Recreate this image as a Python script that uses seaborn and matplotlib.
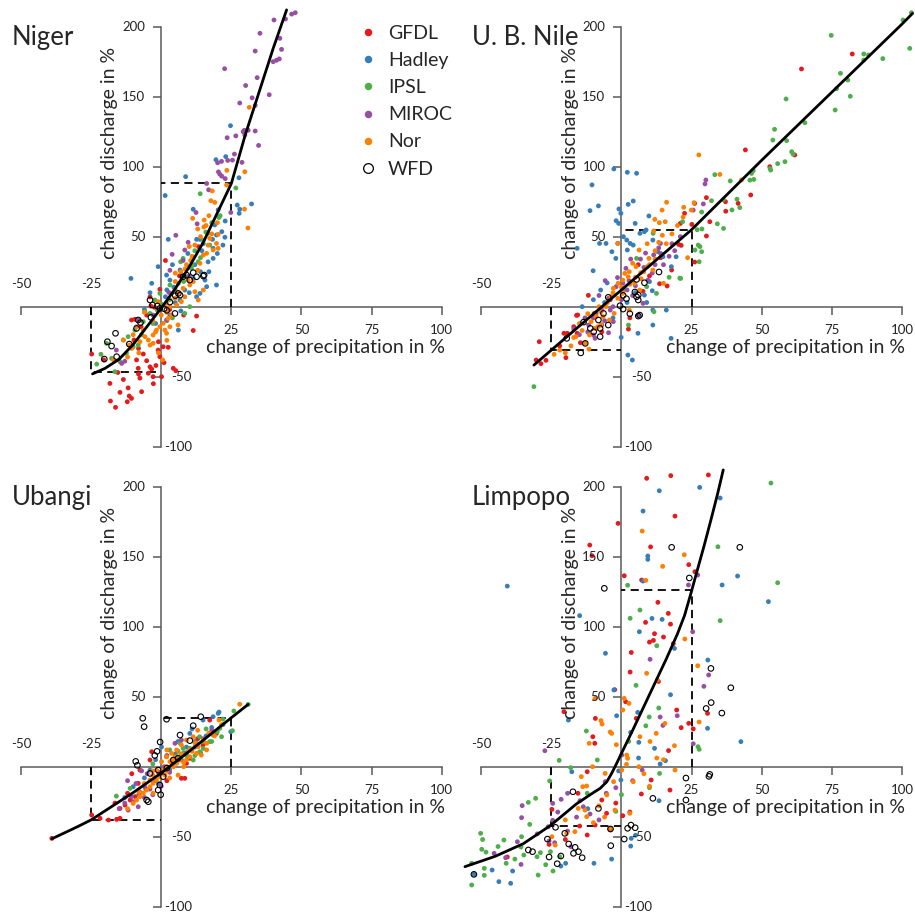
import matplotlib
matplotlib.use("Agg")
import matplotlib.pyplot as plt
import pandas as pd
import seaborn as sns
from matplotlib.lines import Line2D

sns.set_theme(style="ticks")
plt.rcParams["font.family"] = ["Lato", "DejaVu Sans"]

MODELS = ["GFDL", "Hadley", "IPSL", "MIROC", "Nor"]
COLORS = ["#E41A1C", "#377EB8", "#4DAF4A", "#984EA3", "#FF7F00"]
X_TICKS = [-50, -25, 25, 50, 75, 100]
Y_TICKS = [-100, -50, 50, 100, 150, 200]

# ---------------- Niger ----------------
niger_gfdl = [(-24.8, -33.8), (-18.3, -54.8), (-18.1, -67.4), (-16.3, -71.9), (-14.7, -61.2), (-11.8, -58), (-11.4, -63.8),
              (-10.6, -65.5), (-12.1, -67.9), (-13.5, -52), (-15.5, -47), (-8.8, -38), (-8.2, -44), (-7.0, -60.7), (-7.6, -51),
              (-5.2, -38.6), (-4.0, -43), (-4.6, -47.5), (-3.4, -44.5), (-2.9, -50), (-1.9, -42), (-0.5, -35.7), (0.7, -28.6),
              (2.5, -29), (-1.1, -31), (4.3, -44), (5.2, -45.7), (11.4, -17), (12.6, -6.7), (-10.6, -9.5), (-9.4, -9), (-4.0, 7),
              (-3.7, 0.5), (-2.3, -0.5), (1.5, 33), (-0.5, 12.4), (-5.2, -6), (-7.2, -14.3), (-9.7, -23.8), (-8.1, -29.8),
              (-6.4, -33.8), (-8.1, -48.1), (0.1, -50), (13.3, 42.9), (-20.5, -38), (-2.8, -55), (1.0, -40), (-1.0, -25),
              (3.0, -2), (8.0, -6), (6.5, 22)]
niger_hadley = [(24.7, 129.3), (19.5, 105), (23, 107.2), (8.7, 92.9), (1.4, 79.4), (27.7, 92.1), (11.4, 69.6), (20.3, 69.2),
                (27.1, 72.6), (28, 69.6), (27.8, 66.7), (32.2, 73.4), (22.8, 61.2), (21.6, 53.6), (19.1, 58.4), (22.7, 49.6),
                (18.3, 48.1), (12.6, 48.1), (13.8, 48.1), (2.5, 48.1), (-10.8, 20.2), (-1.1, 28.6), (1.9, 22.6), (-3.4, 16.7),
                (3.1, 19), (6.7, 26.2), (10.2, 28.6), (15.6, 19), (16.2, 14.3), (19.7, 15.5), (19.7, 51.2), (12.6, 7.1),
                (13.8, 9.5), (6.1, -16.7), (6.7, 4.8), (3.1, -6), (18.5, 41.7), (16.7, 32), (18.5, 34.5), (11.4, 20.2),
                (8.4, 11.9), (5, 2.9), (1.5, 7.1), (9.5, 38), (14.5, 40), (-6, -2), (-2, -12), (4.5, 14), (8, 22), (12, 30),
                (14, 25), (17, 25), (20, 38), (22, 44), (7, -3), (10, 10), (4, 30), (2, 12), (-4, 10), (15, 45)]
niger_ipsl = [(26.6, 84.8), (13.9, 80.7), (20.6, 63.7), (15.9, 53.3), (-19.5, -26.2), (-17.7, -36.9), (-16.5, -46.4),
              (-13.5, -23.8), (-11.8, -21.4), (-10, -28.6), (-9.4, -16.7), (-5.8, -3.6), (-4, -4.8), (-1.4, -2.4), (-2.3, 4.8),
              (-0.5, 9.5), (3.1, 15.5), (6.1, 16.7), (6.9, 32.1), (7.8, 34.5), (9, 21.4), (10.8, 27.4), (15, 47.6), (16.7, 52.4),
              (13.2, 32.1), (17.3, 44), (-6.4, -10.7), (8.4, -4.8), (10.2, 0), (-12.4, -33.3), (-14.7, -39.3), (-8.2, -27.4),
              (-21.5, -34), (-23, -41), (4, -8), (12, 40), (0, 2), (3, 5), (5, 12), (8, 18), (11, 30), (14, 35), (-3, -12),
              (-7, -20), (2, -10), (18, 60), (21, 65)]
niger_miroc = [(40.2, 204.8), (44.3, 205.5), (46.5, 209), (47.8, 210), (35.2, 195.3), (42.3, 191.7), (42.9, 183.8), (39.9, 175),
               (41.1, 176), (42.1, 177), (33.5, 182.6), (22.6, 170), (34.2, 163.6), (30.1, 158), (32.4, 149.2), (38.5, 151.4),
               (28, 145.5), (33.5, 143.8), (29.2, 125), (29.8, 122.6), (29.6, 126), (31, 126), (33.5, 125.5), (26.6, 122),
               (23.5, 120.7), (34.7, 115.2), (26.1, 109), (28.8, 103.1), (20.1, 102.8), (21.5, 103.8), (23.7, 104.5),
               (25.4, 104.7), (20.4, 96.3), (20.9, 94.6), (21.6, 93.2), (22.8, 91.5), (16.2, 88), (16.9, 83.5), (12.4, 67.3),
               (24.8, 67.3), (12.8, 59.2), (5.2, 51), (3.9, 37.4), (9.6, 46), (7.8, 33), (2.7, 10.2), (1.9, -9.5),
               (-14.1, -40.5), (-13, -39), (8.4, 40.5), (3.1, 26), (-8.2, -9.5), (-2.9, -6), (-16, -31), (10, 22)]
niger_nor = [(-13.5, -23.8), (-11.4, -27.4), (-10.5, -29.8), (-7.6, -25), (-5.8, -21.4), (-4, -27.4), (-2.9, -26.2),
             (-0.5, -14.3), (0.7, -11.9), (1.3, -16.7), (1.9, -19), (3.1, -14.3), (2.5, -8.3), (3.7, -6), (-1.7, -16.7),
             (-2.9, -20.2), (-4.6, -23.8), (-6.4, -16.7), (-8.8, -14.3), (4.9, 6), (5.5, 1.2), (7.2, 3.6), (8.4, 7.1),
             (10.2, 15.5), (11.4, 17.9), (12, 10.7), (13.8, 31), (15, 36.9), (16.2, 38.1), (18.5, 40.5), (16.7, 44),
             (17.3, 48.8), (19.7, 45.2), (20.3, 41.7), (9.6, 19), (7.8, 13.1), (1.9, 2.4), (3.1, 0), (13.2, 4.8), (15, 11.9),
             (-1.1, 3.6), (31.4, 142.4), (23.4, 97.4), (29.8, 96.4), (18.2, 82.7), (17.7, 75.7), (19.1, 74.5), (11.2, 63.1),
             (15.3, 61.9), (13, 55.5), (15.2, 56.9), (29.7, 69.7), (30.9, 56.2), (20.3, 51.7), (23.3, 86.9), (-17, -38),
             (-12, -36), (-1, -33), (0.5, -38), (2, -24), (6, -13), (8.5, 27), (5, 24), (10.5, 33), (-3, -10), (-6, -4),
             (5, 18), (7, 25), (9, 30), (11, 36), (12, 44), (14, 50), (16, 58), (17, 65), (10, 43), (6, 10), (2, -4),
             (-2, -18), (-8, -33), (-10, -20), (0, -6), (13, 26), (18, 52), (20, 60)]
niger_wfd = [(-20.3, -37.4), (-17.7, -28.1), (-16.3, -19), (-19.2, -25), (-15.9, -35.7), (-11.4, -26.7), (-8.2, -9.5),
             (-7.4, -11.4), (-8.8, -15.5), (-4, 4.8), (-3.1, 1.2), (-3.7, -7.6), (-1.4, 0.5), (-0.5, -1.2), (1, -1.4),
             (2, -2.6), (4.9, -4.8), (3.1, 3.3), (5, 7.9), (6.1, 9.5), (7.8, 21.4), (9, 22.6), (11.4, 24.3), (12.6, 21.4),
             (15, 21.9), (15.3, 22.6), (10.2, 19), (6.7, 8.3)]
niger_curve_x = [-24.5, -20, -15, -10, -5, 0, 5, 10, 15, 20, 25, 30, 35, 40, 44.7]
niger_curve_y = [-48, -44, -37.5, -27, -14, -1, 12.9, 28.5, 46, 67, 88, 123, 154, 185, 212]
niger_box = (-47, 88)

# ---------------- Upper Blue Nile ----------------
nile_gfdl = [(-29.3, -25), (-28.7, -40.7), (-26.9, -38.3), (-30.4, -38.1), (-19.8, -36.4), (-16, -6.2), (-11.8, 8.1),
             (-20.5, -19), (-19.3, -19), (-15.8, -19), (-17, -14.3), (-14.6, -25.7), (-9.7, -4.8), (-15.6, -5.9), (2.5, -16),
             (7.7, 11), (13.6, 16.4), (16.3, 14.8), (17.9, 26.2), (20.4, 44.5), (21.3, 43.8), (21, 59.5), (25.1, 58.8),
             (22.5, 66.7), (26.1, 73.8), (30.3, 77.9), (31.5, 60.7), (30.3, 50.5), (26.1, 31.9), (37.1, 75), (41.6, 73.8),
             (37.2, 68.2), (46.1, 79.8), (44.2, 112), (52.9, 100), (61.8, 108.4), (64.2, 169.8), (82.3, 180.5), (-7, -18),
             (3, -8), (10, 22), (14, 35), (-4, 5), (6, 30), (-22, -28)]
nile_hadley = [(-2.7, 98.4), (2.1, 96), (5.4, 95.3), (-10.5, 87), (-11.2, 68.6), (-8.2, 72), (-0.9, 69.8), (-0.2, 66.7),
               (4.2, 75.5), (2.4, 73.1), (-1.9, 61.4), (-1, 59.5), (4.9, 59.5), (9.8, 64.8), (8.8, 54.8), (0.7, 50), (1.9, 47.6),
               (6.6, 52.4), (-7.8, 45.2), (-5.5, 45.2), (-1.3, 45.2), (3.1, 45.2), (4.2, 44), (-15.8, 41.7), (-3.4, 39.3),
               (-2, 34.5), (2.1, 40.5), (-10.1, 25.7), (-7.4, 11.9), (-5.1, 17), (8.2, 53.6), (11.2, 47.6), (13, 39.3),
               (14.8, 35.7), (17.8, 28.6), (19.5, 35.7), (11, 11.4), (10, 17.9), (8.2, 8.3), (11.2, -2.4), (16, -2.4),
               (11.2, -13.1), (5.9, -19), (-0.1, -21.9), (2.3, -34.5), (3.9, -38.1), (17.7, -22.6), (-10, 5), (-6, 3), (2, 3),
               (5, 10), (9, 3), (-14, 0), (-3, -8)]
nile_ipsl = [(103.4, 210), (100.4, 204.8), (102.8, 184.5), (74.8, 193.8), (86.4, 180.5), (88.1, 179.8), (86.4, 176.2),
             (93.2, 177.2), (78.1, 166.7), (80.7, 161.9), (76.7, 155.7), (81.6, 150.3), (76.2, 140.5), (58.7, 148.4),
             (54.6, 126.7), (54, 119), (58.9, 118.6), (65.4, 131.4), (60.7, 110.7), (61.2, 109), (58.3, 103.6), (55.7, 102.2),
             (53.2, 97.6), (53, 98.8), (47, 97.1), (46.4, 95.2), (45.8, 90.4), (47.2, 90.9), (38.8, 89.8), (41.2, 76.8),
             (42.2, 70.8), (39.4, 69.1), (32.1, 75.7), (33.3, 94.3), (36.3, 76.4), (34.2, 59.2), (36.4, 55.9), (28.7, 55.5),
             (27, 55), (28.6, 67.6), (27.4, 44), (28, 42.9), (26.2, 40.5), (-31.2, -57.1), (21.1, 20.2), (12.5, 9.5),
             (2.5, -13.1), (5.4, 34.5), (11.3, 52.4), (28.6, 39.3), (27.7, 32.1), (21.8, 60.7), (-8.8, -15.5), (-7.1, -13.1),
             (0.7, 12), (9, 14.3), (11.6, -3.6), (20.8, 20.4), (17, 21)]
nile_miroc = [(30.1, 90.5), (29.8, 87.7), (29.2, 73.4), (25.6, 69), (13.9, 45.2), (8.6, 38.3), (11.5, 37), (13.3, 42),
              (6.8, 34), (3.3, 34), (2.7, 18.6), (0.5, 16.7), (-1.9, 14.3), (-5.8, 18.6), (-1.4, 20.8), (-4.6, 6), (-7, -2.4),
              (-4, -2.4), (-9, -4.8), (-11.7, -13.1), (-10, -20.2), (-9.4, -22.6), (-4.6, -18.6), (-7, -13), (-2.9, -10.7),
              (6, -6), (7.7, 2.4), (9.4, 19), (11, 24), (1.6, 27.4), (17, 36), (19, 40), (-13, -8), (-17, -16), (4, 8), (15, 30),
              (-15, -20), (-12, -18), (-10, -8), (-6, -10), (-3, 0), (0, 5), (2, 12), (5, 15), (8, 28), (12, 30), (14, 38),
              (18, 45), (21, 50), (-8, 8)]
nile_nor = [(27.6, 108.4), (35.1, 94.5), (42.8, 90.5), (16.1, 74.6), (25.9, 74.3), (22.2, 71), (24.9, 69), (14.5, 69),
            (13.5, 60), (11.9, 62.4), (15.6, 60.7), (11.5, 54.1), (14.6, 51), (9.2, 45), (13.3, 46), (9.8, 34.5), (6.3, 40.5),
            (9.2, 28.6), (6.9, 24.3), (4, 31), (5.2, 28.6), (2.8, 25), (-1.3, 45.2), (1.2, 23.8), (2.4, 21.4), (0.5, 19),
            (-1.2, 16.7), (4.7, 16.7), (6.5, 11.9), (-2.9, 13.1), (-3.7, 7.1), (-5.5, 0), (-7.3, -3.6), (-9, -7.1),
            (-10.8, -10.7), (-9.6, -15.5), (-11.4, -20.2), (-11.6, -30.3), (-16.2, -21.4), (-4.3, -9.5), (-2.6, -4.8),
            (2.8, -2.4), (-6.6, -7.1), (-8.4, -14.3), (-7.3, -13.1), (-1.3, 6), (0.5, 9.5), (15, 16.7), (11.2, 26.2),
            (23.6, 35), (-14, -17), (-18, -28), (-13, -26), (-20, -33), (7, 20), (12, 34), (-22, -31), (-24, -34),
            (-17, -22), (-15, -12), (-12, -5), (-8, 0), (-5, 3), (-3, 10), (0, 14), (3, 16), (5, 21), (8, 25), (10, 30),
            (12, 40), (16, 45), (18, 52), (20, 58), (22, 64)]
nile_wfd = [(-4.7, 6.7), (-6.4, -4.8), (-8.2, -9.5), (-7.6, -15.5), (-7.6, -21.4), (-11.1, -15.5), (-9.9, -17.9),
            (-4.7, -13.1), (-12.9, -26.2), (-19.5, -22.6), (0.6, 8.1), (1.8, 5.7), (4.8, 10.5), (5.4, 7.1), (6, 8.3), (6, 4.8),
            (-0.5, 0.7), (0.6, -1.7), (3, -5), (6, -6.7), (6.5, -6), (13.4, 24.8), (8.2, 17.1), (5.4, 19.5), (-14.5, -33),
            (-13.5, -11)]
nile_curve_x = [-31.2, -25, 0, 25, 50, 75, 100, 103.8]
nile_curve_y = [-41.7, -31, 12, 55, 104.6, 153.2, 201.8, 209.5]
nile_box = (-31, 55)

# ---------------- Ubangi ----------------
ubangi_gfdl = [(-39, -51.2), (-24.8, -34.5), (-21.8, -36.9), (-18.8, -38.1), (-15.9, -37.6), (-14.7, -36.9), (-14.7, -29.8),
               (-12.9, -27.4), (-11.1, -23.8), (-9.3, -21.4), (-7.8, -17.9), (-4, 4.8), (-3.4, 10.7), (-7.6, -2.4),
               (-8.2, -11.9), (7.2, -8.3), (8.4, -8.3), (9, 2.4), (10.2, 6), (14.9, 15.5), (19.7, 23.8), (17.3, 33.3),
               (-10.5, -5), (-5.5, -16), (-16.5, -26), (-12, -19), (2, -10), (13, 20)]
ubangi_hadley = [(20.6, 39), (24.8, 25), (14.9, 33.3), (18.5, 35.7), (20.3, 38.1), (10.2, 23.8), (7.2, 4.8), (-4, -2.4),
                 (-10, -14.3), (0.1, 14.1), (12, 18), (16, 22), (14, 10), (9, 14), (5, 9), (3, -2), (-2, 5), (-6, -8),
                 (18, 28), (22, 30), (11, 27), (6, 18), (-1, -12), (-13, -22)]
ubangi_ipsl = [(31, 44.5), (25.9, 39.8), (25.4, 25.7), (21.5, 21.4), (14.9, 17.9), (13.7, 10.7), (11.4, 4.8), (9.6, 7.1),
               (7.8, 13.1), (6.7, 16.7), (1.9, 7.1), (10.2, 13.1), (12.6, 16.7), (13.7, 21.4), (17.3, 17.9), (18.5, 22.6),
               (20.9, 27.4), (5.5, 7.1), (-11.1, -15.5), (-16, -21), (3, 12), (16, 27), (8, 10), (-3, 2), (22, 34),
               (9, 8), (12, 8), (15, 13), (18, 18), (20, 25), (6, 11), (4, 2)]
ubangi_miroc = [(-8.2, -28.6), (-11.8, -31), (-10.6, -21.4), (4.9, 16.7), (7.2, 19), (-15, -30), (-13, -26), (-6, -22),
                (-4, -16), (-9, -12), (-2, -10), (0, -14), (-5, -5), (1, 0), (3, -4), (6, 5), (9, 10), (12, 14), (15, 20),
                (18, 26), (-7, -3), (-12, -10), (2, 8), (-10, -25), (-8, -20), (-3, -20), (-6, -14), (-1, -4)]
ubangi_nor = [(28, 44.6), (20.6, 33.4), (16.2, 16.7), (13.2, 14.3), (16.2, 12), (12.6, 9.5), (10.2, 7.1), (9, 4.8), (6.7, 4.8),
              (5.5, 2.4), (4.3, 0), (3.1, 3.6), (1.9, 0), (0.7, -2.4), (1.3, -6), (-0.5, -7.1), (-1.7, -9.5), (-2.9, -11.9),
              (-4, -14.3), (-5.2, -16.7), (-6.4, -19), (-7.6, -21.4), (-8.8, -23.8), (-10, -26.2), (-1.7, -2.4), (0.1, 3.6),
              (1.9, 7.1), (3.7, 9.5), (5.5, 11.9), (7.2, 15.5), (9, 19), (11.4, 21.4), (14.3, 8.3), (-4, -9.5), (-2.9, -19),
              (21.5, 30), (19, 22), (8, 0), (6, -6), (-12, -30), (2, 12), (4, 5), (10, 12), (-3, -3), (13, 26),
              (5, 7), (7, 9), (8, 3), (11, 11), (12, 17), (15, 19), (17, 24), (3, -8), (-6, -12), (-8, -18), (0, -5),
              (2, -3), (-3, -6)]
ubangi_wfd = [(-6.6, 34.6), (-6.1, 28.6), (1.9, 33.9), (14.1, 35.7), (11.4, 29.3), (6.7, 22.6), (10.2, 18.6), (-0.4, 17.6),
              (-2.3, 8), (-1.5, 11), (-9.1, 3.8), (-8.5, 1), (-5.2, -23.8), (-0.2, -20), (-4, -4.8), (0.7, -7.1),
              (-0.5, -13.1), (-1.1, -16.7), (-4.6, -25), (4.3, 4.8), (-1.1, -2.4), (2, -1), (6, 6)]
ubangi_curve_x = [-39, -30, -25, -20, -10, 0, 10, 20, 25, 31]
ubangi_curve_y = [-51.5, -43, -38, -31.5, -18.5, -4.5, 11, 27, 35, 44.5]
ubangi_box = (-38, 35)

# ---------------- Limpopo ----------------
limpopo_gfdl = [(9, 206), (17.6, 207.9), (31, 208.4), (-1.2, 173.8), (19.1, 179), (-11.3, 158.3), (-10.5, 150.7), (10.4, 157),
                (1, 136.4), (7.2, 133.3), (24, 144.3), (26.2, 139.3), (13, 117.4), (16.7, 109.5), (17.5, 101.8), (8.6, 103.1),
                (11.8, 95), (10, 89), (11.4, 90.2), (15, 92.6), (18.5, 87.9), (3.5, 81.6), (3.1, 67.6), (13.2, 60.9),
                (-2.4, 55), (1.5, 46.4), (-20.5, 39.3), (-9.3, 34.5), (-10.2, 21.4), (-9.5, 16.7), (5.3, 34.5), (19.7, 40.5),
                (21.3, 27.9), (30.7, 38.1), (24, 31), (25.6, 27), (16.8, 11.5), (10.6, -9.5), (7.1, -19.5), (17.3, -16.7),
                (3, -32.4), (-5.3, -33.3), (-7, -23.8), (-9.4, -41.7), (-12.2, -48.8), (-14.9, -42.4), (-15.5, -19),
                (-12.2, -3.6), (-24.8, -30.5), (-25.8, -55.5), (-40.7, -64.5), (-4, -45), (0.5, -35), (-20, -52), (-2, -26)]
limpopo_hadley = [(-40.7, 129), (13.5, 197.1), (27.9, 199.5), (35.2, 191.9), (7.7, 182.6), (9.4, 150.5), (9.4, 148.1),
                  (7.7, 132.6), (-14.9, 107.9), (-5.7, 81), (6.4, 96.4), (10.9, 105.9), (14.5, 105.2), (18.9, 84.5),
                  (30.8, 76.2), (35.9, 129.8), (41.4, 136.2), (52.4, 117.9), (42.6, 17.9), (30.7, 27.4), (17.5, 51.4),
                  (-2.7, 54.8), (-1.7, 36.4), (3.3, 24.5), (5.8, 38.8), (6.2, 17.4), (11.8, 13.1), (13.8, 1.9), (15.7, 4.3),
                  (6.1, 6.2), (-17.7, -3.6), (-18.9, 33.3), (-0.2, -9.5), (13.4, -24.3), (3.5, -51.2), (3.3, -56.7),
                  (-3.5, -66), (-9.8, -69), (-19.9, -69), (-21.6, -71), (-38.8, -74.5), (-39.5, -83.3), (-43.7, -82.1),
                  (-46.1, -73.8), (-52.6, -76.9), (5, -49), (-1, -3), (-12, -30)]
limpopo_ipsl = [(53.3, 202.6), (34.4, 157.1), (55.7, 131.4), (35.2, 104.3), (6.6, 111.9), (3.1, 106), (12.6, 86.4),
                (5.2, 58.1), (2.2, 129.6), (-50.2, -47.6), (-49.5, -52), (-49.8, -59), (-48.3, -61), (-41.9, -52.4),
                (-35.6, -50), (-33.2, -25.5), (-30.6, -22.6), (-32.7, -41.2), (-34.8, -63.1), (-30.1, -64.3), (-28.9, -61.4),
                (-25.3, -60.7), (-29.7, -77.4), (-24.4, -74.5), (-22, -64.3), (-35.8, -57.4), (-41.1, -69), (-48.9, -72.6),
                (-48.9, -77.6), (-53.4, -84.5), (-53.4, -69), (-25.6, -10.2), (-22.2, 4.5), (-18.1, -0.7), (-8.6, 4.8),
                (-12.5, 25.5), (-12.2, -19), (13.3, 41.9), (13.6, -4.8), (27.3, 14.3), (27.7, 12.4), (8.7, 29.2),
                (-2, -31.9), (2.6, 18.1), (9.9, 35.5), (-38, -66), (-44, -57), (-27, -70), (0, -20), (10, -15)]
limpopo_miroc = [(23.9, 129.8), (27.2, 136.9), (25.4, 96.4), (10.2, 76.7), (31.1, 65.5), (29.4, 57.4), (13.8, 35.5),
                 (19.9, 36.4), (14.8, 29.5), (25.6, 16.4), (-27.3, 11.4), (-45.4, -61.9), (-41.3, -65), (-37.1, -53.6),
                 (-35.4, -27.8), (-35.6, -36.4), (-24.5, -26.2), (-21.5, -23.3), (-19.2, -19), (-22.7, -32.4),
                 (-24.5, -38.3), (-25.8, -53.1), (-23.8, -54.3), (-19.2, -46), (-18, -57.1), (-13.6, -28.6), (-11.2, -33.8),
                 (-5.4, -19), (-5.8, -10.7), (7.4, -2.4), (-35.8, -69.8), (-26.1, -42.9), (-14.8, -24.3), (0.1, 8.3),
                 (-8, -38), (-30, -48), (-16, -36), (4, -10), (-2, -15)]
limpopo_nor = [(7.4, 168.3), (8.7, 133.1), (14.7, 143.1), (22.4, 151.4), (22.6, 91.2), (27.2, 72.1), (9, 66.7), (12.8, 61.9),
               (1, 48.8), (2.7, 45.2), (-9.4, 48.8), (0.5, 40.5), (-4, 24.8), (-7.3, 32.9), (-1.8, 15.7), (6.6, 21.4),
               (10.2, 18), (12.4, 23.8), (15.5, 30.9), (18.9, 15), (27.7, 31.9), (1.9, 8.3), (12.6, 6.2), (19.1, -2.4),
               (-10.3, 0), (-12.4, -13.8), (-5.8, -4.8), (-2.8, -10.7), (0.1, -2.4), (1.8, 1.7), (-11.5, 16.7),
               (-6.9, 30.5), (-3.5, 23.8), (-14.3, -7.1), (-13.8, -14.3), (-5.2, -20.2), (-2.3, -31), (-13, -31),
               (-15.4, -29.8), (-12.4, -35.7), (-16.6, -46.4), (-19.5, -47.6), (-24.8, -50), (-23.6, -56), (3, -33.3),
               (4.2, -10.7), (6.2, 0), (2.2, 6), (-8, -28), (-10, -40), (-6, -36), (8, -5), (10, -14), (-20, -38), (-4, -44),
               (15, 5)]
limpopo_wfd = [(-6.1, 127.4), (17.9, 156.7), (42.2, 156.7), (24.2, 134.8), (31.9, 70.2), (39, 56.4), (30.2, 41.6),
               (32, 45.8), (35.8, 38.3), (23, -8.1), (31.2, -6.9), (31.5, -5.5), (23, -23.8), (11.2, -22.6), (-8.2, -29.8),
               (-17.3, -17.9), (-3.9, -44.5), (-3.8, -56.4), (1, -51.7), (2.2, -44), (3.4, -41.7), (4.9, -43.6),
               (-26.4, -51.7), (-23.5, -43.3), (-20.2, -47.6), (-18.8, -55.2), (-16.5, -57.6), (-15.3, -60.7),
               (-17.1, -61.9), (-14, -65), (-21.6, -63.8), (-25.8, -64.5), (-22.9, -69.3), (-33.2, -59.5), (-31.7, -60.7),
               (-52.6, -76.9)]
limpopo_curve_x = [-55.8, -45, -35, -25.3, -16, -10, -7.6, -5.2, -3.5, -1.7, 0, 4, 8, 12, 16, 20, 22.5, 24.8,
                   27, 29.5, 32, 34.3, 36.3]
limpopo_curve_y = [-71.4, -64, -55, -42, -26.5, -18.5, -15.5, -10.7, -4.8, 2.4, 9.5, 26, 43, 60, 77, 95, 108, 124,
                   140, 158, 177, 195, 212]
limpopo_box = (-42, 126)

AXIS_GREY = "#5a5a5a"


def draw_panel(ax, model_pts, wfd_pts, curve_x, curve_y, box):
    ax.set_xlim(-50, 100)
    ax.set_ylim(-100, 200)
    ax.patch.set_visible(False)

    frames = [pd.DataFrame(p, columns=["dp", "dq"]).assign(model=m) for m, p in zip(MODELS, model_pts)]
    df = pd.concat(frames, ignore_index=True)
    sns.scatterplot(data=df, x="dp", y="dq", hue="model", hue_order=MODELS, palette=COLORS,
                    s=12, linewidth=0, legend=False, ax=ax, clip_on=False, zorder=3)
    wfd = pd.DataFrame(wfd_pts, columns=["dp", "dq"])
    sns.scatterplot(data=wfd, x="dp", y="dq", s=16, facecolor="none", edgecolor="black",
                    linewidth=0.8, legend=False, ax=ax, clip_on=False, zorder=4)

    low, high = box
    ax.plot([-25, -25, 0], [0, low, low], color="black", lw=1.3, dashes=(4.5, 3), zorder=2)
    ax.plot([25, 25, 0], [0, high, high], color="black", lw=1.3, dashes=(4.5, 3), zorder=2)

    sns.lineplot(x=curve_x, y=curve_y, sort=False, estimator=None, color="black", lw=2.0,
                 ax=ax, clip_on=False, zorder=5)

    for s in ("top", "right"):
        ax.spines[s].set_visible(False)
    for s in ("left", "bottom"):
        ax.spines[s].set_position(("data", 0))
        ax.spines[s].set_color(AXIS_GREY)
        ax.spines[s].set_linewidth(1.1)
        ax.spines[s].set_zorder(1)
    ax.set_xticks(X_TICKS)
    ax.set_yticks(Y_TICKS)
    ax.tick_params(direction="out", length=5.5, width=1.1, color=AXIS_GREY,
                   bottom=True, left=True, labelbottom=False, labelleft=False)
    ax.set_xlabel("")
    ax.set_ylabel("")

    tick_kw = dict(textcoords="offset points", va="center", fontsize=9.5, color="#222222")
    for v in X_TICKS:
        if v < 0:
            ax.annotate(str(v), (v, 0), xytext=(0, 16.3), ha="center", **tick_kw)
        else:
            ax.annotate(str(v), (v, 0), xytext=(0, -16.8), ha="center", **tick_kw)
    for v in Y_TICKS:
        if v > 0:
            ax.annotate(str(v), (0, v), xytext=(-11.5, 0), ha="right", **tick_kw)
        else:
            ax.annotate(str(v), (0, v), xytext=(21.9, 0), ha="right", **tick_kw)

    ax.text(101.2, -29.3, "change of precipitation in %", ha="right", va="center", fontsize=14)
    ax.text(-18.3, 110, "change of discharge in %", rotation=90, ha="center", va="center", fontsize=14)


W, H = 915, 914
fig = plt.figure(figsize=(W / 100, H / 100), dpi=100)
col_left = [21.0 / W, 481.2 / W]
row_bottom = [1 - 446.7 / H, 1 - 906.7 / H]
aw, ah = 420.7 / W, 420.0 / H

panels = [
    ("Niger", 0, 0, [niger_gfdl, niger_hadley, niger_ipsl, niger_miroc, niger_nor], niger_wfd,
     niger_curve_x, niger_curve_y, niger_box),
    ("U. B. Nile", 1, 0, [nile_gfdl, nile_hadley, nile_ipsl, nile_miroc, nile_nor], nile_wfd,
     nile_curve_x, nile_curve_y, nile_box),
    ("Ubangi", 0, 1, [ubangi_gfdl, ubangi_hadley, ubangi_ipsl, ubangi_miroc, ubangi_nor], ubangi_wfd,
     ubangi_curve_x, ubangi_curve_y, ubangi_box),
    ("Limpopo", 1, 1, [limpopo_gfdl, limpopo_hadley, limpopo_ipsl, limpopo_miroc, limpopo_nor], limpopo_wfd,
     limpopo_curve_x, limpopo_curve_y, limpopo_box),
]

axes = []
for title, c, r, pts, wfd, cx, cy, box in panels:
    ax = fig.add_axes([col_left[c], row_bottom[r], aw, ah])
    draw_panel(ax, pts, wfd, cx, cy, box)
    axes.append(ax)
    tx = [11.7, 471.7][c]
    ty = [45.0, 505.0][r]
    fig.text(tx / W, 1 - ty / H, title, fontsize=18.5, va="baseline", ha="left")

handles = [Line2D([], [], ls="", marker="o", markersize=5.4, markerfacecolor=col, markeredgewidth=0)
           for col in COLORS]
handles.append(Line2D([], [], ls="", marker="o", markersize=7, markerfacecolor="none",
                      markeredgecolor="black", markeredgewidth=0.9))
axes[0].legend(handles, MODELS + ["WFD"], loc="upper left", bbox_to_anchor=(358 / W, 1 - 25 / H),
               bbox_transform=fig.transFigure, frameon=False, fontsize=14, borderpad=0, borderaxespad=0,
               handlelength=1.0, handletextpad=0.53, labelspacing=0.52)

fig.savefig("out.png", dpi=100)
